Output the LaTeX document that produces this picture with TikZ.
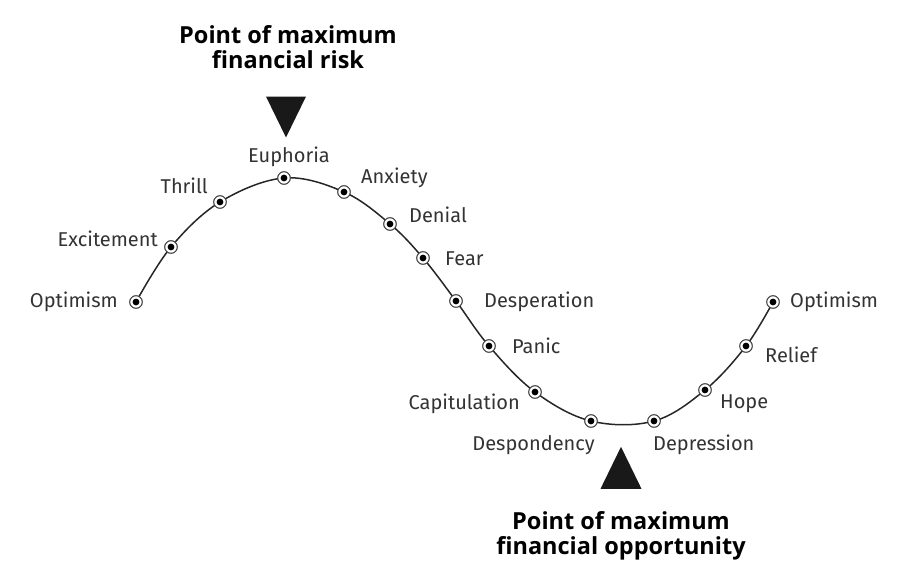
\documentclass[tikz,border=0pt]{standalone}
\usepackage{fontspec}
\setmainfont{Fira Sans}
\newfontfamily\headfont{Open Sans}
\usetikzlibrary{calc,shapes,positioning}

\tikzset{
  dot/.style={circle, draw=black!75, fill=white, line width=0.9pt, minimum size=12.5pt, inner sep=0pt,
    path picture={\fill[black] (path picture bounding box.center) circle (3.4pt);}},
  lbl/.style={text=black!80, font=\fontsize{20}{22}\selectfont, inner sep=0pt},
  head/.style={font=\headfont\bfseries\fontsize{23.5}{25.5}\selectfont, align=center, inner sep=0pt}
}

\begin{document}
\begin{tikzpicture}[x=1pt,y=-1pt]
  \useasboundingbox (0,0) rectangle (918,586);
  % points on the cycle
  \node[dot] (opta) at (136,302) {};
  \node[dot] (exc)  at (171,247) {};
  \node[dot] (thr)  at (220,202) {};
  \node[dot] (eup)  at (284,178) {};
  \node[dot] (anx)  at (344,192) {};
  \node[dot] (den)  at (390,224) {};
  \node[dot] (fea)  at (423,258) {};
  \node[dot] (des)  at (456,301) {};
  \node[dot] (pan)  at (489,346) {};
  \node[dot] (cap)  at (535,392) {};
  \node[dot] (dsp)  at (591,421) {};
  \node[dot] (dep)  at (654,421) {};
  \node[dot] (hop)  at (705,390) {};
  \node[dot] (rel)  at (746,346) {};
  \node[dot] (optb) at (773,302) {};
  % the curve
  \draw[line width=1.5pt, black!85] plot[smooth, tension=0.6] coordinates {(opta.center) (exc.center) (thr.center) (eup.center) (anx.center) (den.center) (fea.center) (des.center) (pan.center) (cap.center) (dsp.center) (dep.center) (hop.center) (rel.center) (optb.center)};
  \foreach \n in {opta,exc,thr,eup,anx,den,fea,des,pan,cap,dsp,dep,hop,rel,optb}
    \node[dot] at (\n) {};
  % labels
  \node[lbl, anchor=east] (l1) at (118,302) {Optimism};
  \node[lbl, anchor=east] (l2) at (158,239) {Excitement};
  \node[lbl, anchor=east] (l3) at (208,186) {Thrill};
  \node[lbl] (l4) at (289,157) {Euphoria};
  \node[lbl, anchor=west] (l5) at (361,178) {Anxiety};
  \node[lbl, anchor=west] (l6) at (409,215) {Denial};
  \node[lbl, anchor=west] (l7) at (445,259) {Fear};
  \node[lbl, anchor=west] (l8) at (484,302) {Desperation};
  \node[lbl, anchor=west] (l9) at (512,346) {Panic};
  \node[lbl, anchor=east] (l10) at (520,404) {Capitulation};
  \node[lbl, anchor=east] (l11) at (595,445) {Despondency};
  \node[lbl, anchor=west] (l12) at (653,445) {Depression};
  \node[lbl, anchor=west] (l13) at (720,404) {Hope};
  \node[lbl, anchor=west] (l14) at (765,355) {Relief};
  \node[lbl, anchor=west] (l15) at (790,302) {Optimism};
  % risk and opportunity
  \node[head] (risk) at (288,47) {Point of maximum\\financial risk};
  \node[isosceles triangle, shape border rotate=-90, isosceles triangle apex angle=52, fill=black!90, inner sep=0pt, minimum height=41pt] (tri1) at (286,109) {};
  \node[isosceles triangle, shape border rotate=90, isosceles triangle apex angle=52, fill=black!90, inner sep=0pt, minimum height=42pt] (tri2) at (621,476) {};
  \node[head] (opp) at (621,536) {Point of maximum\\financial opportunity};
\end{tikzpicture}
\end{document}
